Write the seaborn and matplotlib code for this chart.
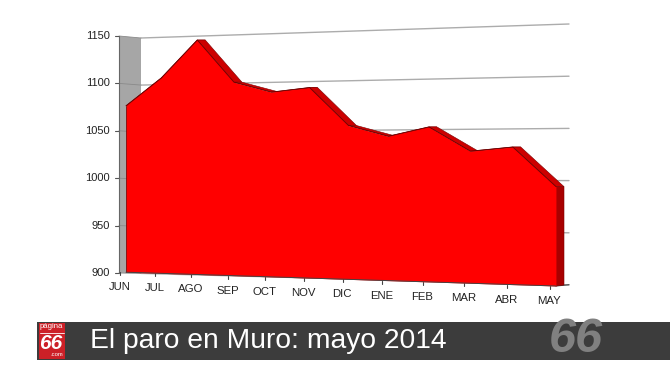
import numpy as np
import pandas as pd
import matplotlib
matplotlib.use('Agg')
import matplotlib.pyplot as plt
import seaborn as sns
from matplotlib.transforms import Transform, Affine2D

# Values
months = ['JUN', 'JUL', 'AGO', 'SEP', 'OCT', 'NOV', 'DIC', 'ENE', 'FEB', 'MAR', 'ABR', 'MAY']
paro = [1078, 1107, 1146, 1101, 1090, 1094, 1055, 1044, 1053, 1029, 1033, 995]
y_ticks = [900, 950, 1000, 1050, 1100, 1150]

title = 'El paro en Muro: mayo 2014'
W, H = 670, 377


def solve_h(src, dst):
    # 4 point homography, nothing fancy
    A, b = [], []
    for (u, v), (x, y) in zip(src, dst):
        A.append([u, v, 1, 0, 0, 0, -u * x, -v * x])
        A.append([0, 0, 0, u, v, 1, -u * y, -v * y])
        b += [x, y]
    return np.append(np.linalg.solve(np.array(A, float), np.array(b, float)), 1).reshape(3, 3)


class Perspective(Transform):
    # (month index, value) -> picture pixels on a leaning plane
    input_dims = 2
    output_dims = 2
    is_separable = False
    has_inverse = False

    def __init__(self, left, right):
        super().__init__()
        # left/right = (x, y at 900, y at 1150)
        src = [(0, 0), (1, 0), (0, 1), (1, 1)]
        dst = [(left[0], left[1]), (right[0], right[1]), (left[0], left[2]), (right[0], right[2])]
        self.h = solve_h(src, dst)

    def transform_non_affine(self, values):
        values = np.asarray(values, float)
        u = values[:, 0] / 11.0
        v = (values[:, 1] - 900) / 250.0
        p = self.h @ np.vstack([u, v, np.ones_like(u)])
        return (p[:2] / p[2]).T


sns.set_theme(style='white')
plt.rcParams['font.family'] = ['Liberation Sans', 'DejaVu Sans']

df = pd.DataFrame({'month': range(len(months)), 'paro': paro})

fig = plt.figure(figsize=(W / 100, H / 100), dpi=100)
ax = fig.add_axes([0, 0, 1, 1])
ax.set_xlim(0, W)
ax.set_ylim(H, 0)
ax.axis('off')

front = Perspective((126, 272.2, 38.5), (556, 286, 24.5))
back = Perspective((141, 273.4, 38), (569, 285, 24))
front_t = front + ax.transData
tick_t = front + Affine2D().translate(-6, 0) + ax.transData

# left wall and gridlines
g = np.array(y_ticks, float)
back_left = back.transform(np.column_stack([np.zeros(6), g]))
back_right = back.transform(np.column_stack([np.full(6, 11), g]))
wall_x = 119
wall_y = 273 - (g - 900) * 0.948
ax.fill([wall_x, 141, 141, wall_x], [wall_y[5], back_left[5, 1], back_left[0, 1], wall_y[0]],
        color='#a6a6a6', lw=0, zorder=1)
for i in range(6):
    ax.plot([back_left[i, 0], back_right[i, 0]], [back_left[i, 1], back_right[i, 1]],
            color='#acacac', lw=1.0, zorder=1)
    ax.plot([wall_x, 141], [wall_y[i], back_left[i, 1]], color='#8a8a8a', lw=0.6, zorder=2)
    ax.plot([wall_x - 4, wall_x], [wall_y[i], wall_y[i]], color='#555555', lw=0.8, zorder=2)
    ax.text(110, wall_y[i], str(y_ticks[i]), ha='right', va='center', fontsize=8,
            color='#222222')
ax.plot([wall_x, wall_x], [wall_y[5], wall_y[0]], color='#666666', lw=0.8, zorder=2)

# depth of the red area
depth = 8
pts = front.transform(df[['month', 'paro']].to_numpy(float))
for a, b in zip(pts[:-1], pts[1:]):
    ax.fill([a[0], b[0], b[0] + depth, a[0] + depth], [a[1], b[1], b[1], a[1]],
            facecolor='#cc0000', edgecolor='#7a0000', lw=0.4, zorder=3)
base_r = front.transform([[11, 900]])[0]
ax.fill([pts[-1, 0], pts[-1, 0] + depth, pts[-1, 0] + depth, base_r[0]],
        [pts[-1, 1], pts[-1, 1], base_r[1] - 1, base_r[1]],
        facecolor='#a80000', edgecolor='#7a0000', lw=0.4, zorder=3)

ax.fill_between(df['month'], 900, df['paro'], transform=front_t, color='#ff0000', lw=0, zorder=4)
sns.lineplot(data=df, x='month', y='paro', ax=ax, transform=front_t, color='#6a0000', lw=0.6,
             errorbar=None, zorder=5)
ax.plot([0, 0], [900, paro[0]], transform=front_t, color='#6a0000', lw=0.5, zorder=5)
ax.plot([0, 11], [900, 900], transform=front_t, color='#444444', lw=0.7, zorder=5)
ax.plot([base_r[0], 569], [base_r[1], 284.7], color='#444444', lw=0.8, zorder=2)
ax.set_xlim(0, W)
ax.set_ylim(H, 0)
ax.set_xlabel('')
ax.set_ylabel('')

# month ticks and labels follow the base line
ticks = tick_t.transform(np.column_stack([np.arange(12), np.full(12, 900)]))
ticks = ax.transData.inverted().transform(ticks)
for i, m in enumerate(months):
    ax.plot([ticks[i, 0]] * 2, [ticks[i, 1], ticks[i, 1] + 3], color='#444444', lw=0.8, zorder=2)
    ax.text(ticks[i, 0] - 0.5, ticks[i, 1] + 15, m, ha='center', va='center', fontsize=8.2,
            color='#222222')

# bottom band
ax.fill([37, W, W, 37], [321.5, 321.5, 359.5, 359.5], color='#3c3c3c', lw=0, zorder=6)
ax.fill([38.5, 64.5, 64.5, 38.5], [322.5, 322.5, 358.5, 358.5], color='#cc2027', lw=0, zorder=7)
ax.text(51.5, 326.8, 'página', ha='center', va='center', fontsize=5.6, color='white', zorder=8)
ax.plot([39.5, 63.5], [332.5, 332.5], color='white', lw=0.6, zorder=8)
ax.text(51, 343.3, '66', ha='center', va='center', fontsize=15, color='white',
        style='italic', weight='bold', zorder=8)
ax.text(63, 355, '.com', ha='right', va='center', fontsize=4.2, color='white', zorder=8)
ax.text(90, 340.5, title, ha='left', va='center', fontsize=20.3, color='white', zorder=8)
ax.text(576, 340, '66', ha='center', va='center', fontsize=35, color='#808080',
        style='italic', weight='bold', zorder=8)

fig.savefig('out.png', dpi=100)
